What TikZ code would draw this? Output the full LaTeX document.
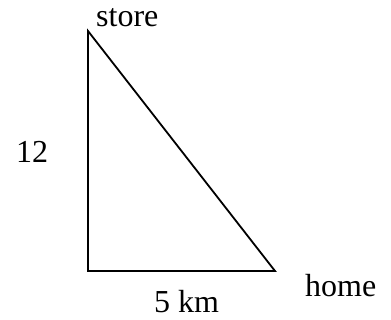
\documentclass[tikz,border=0pt]{standalone}
\usepackage{fontspec}
\setmainfont{Liberation Serif}
\begin{document}
\begin{tikzpicture}[x=1pt,y=-1pt,
  lbl/.style={inner sep=0pt,anchor=base west,font=\fontsize{32}{38}\selectfont},
  edge/.style={line width=1.8pt,line join=miter}]
\useasboundingbox (0,0) rectangle (391,320);
\coordinate (top) at (88,31);
\coordinate (bl) at (88,271);
\coordinate (br) at (275,271);
\draw[edge] (top) -- (bl) -- (br) -- cycle;
\node[lbl] (store) at (96,27) {store};
\node[lbl] (home) at (305,297) {home};
\node[lbl] (twelve) at (16,163) {12};
\node[lbl] (km) at (154,313) {5 km};
\end{tikzpicture}
\end{document}
